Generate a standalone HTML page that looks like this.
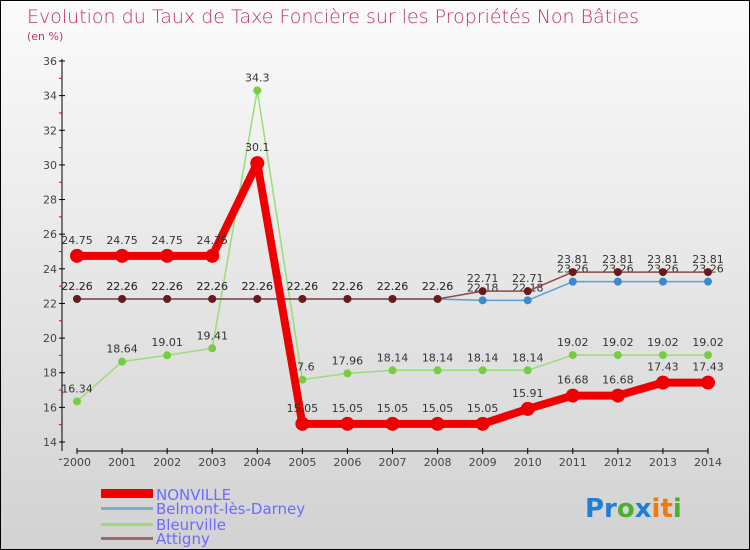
<!DOCTYPE html>
<html><head><meta charset="utf-8"><style>
body{margin:0;}
#wrap{width:750px;height:550px;box-sizing:border-box;border:1px solid #000;background:linear-gradient(#fbfbfb,#d2d2d2);position:relative;overflow:hidden;font-family:"DejaVu Sans","Liberation Sans",sans-serif;}
svg text{font-family:"DejaVu Sans","Liberation Sans",sans-serif;}
</style></head><body>
<div id="wrap">
<svg id="svg" width="750" height="550" style="position:absolute;left:0;top:0">
<text x="26" y="22" font-size="19" fill="#c0306a" style="font-weight:200">Evolution du Taux de Taxe Foncière sur les Propriétés Non Bâties</text>
<text x="26" y="39" font-size="11" fill="#c0306a">(en %)</text>
<g id="axes"></g><g id="series"></g>
<g>
<rect x="100" y="488" width="52" height="9" fill="#e00"/>
<text x="155" y="499" font-size="15" fill="#6b6bff">NONVILLE</text>
<rect x="100" y="506" width="52" height="3" fill="#7aaed0"/>
<text x="155" y="513" font-size="15" fill="#6b6bff">Belmont-lès-Darney</text>
<rect x="100" y="522" width="52" height="3" fill="#98dd77"/>
<text x="155" y="529" font-size="15" fill="#6b6bff">Bleurville</text>
<rect x="100" y="536" width="52" height="3" fill="#9a6a6a"/>
<text x="155" y="543" font-size="15" fill="#6b6bff">Attigny</text>
</g>
<g font-size="26" font-weight="bold">
<text x="584" y="516"><tspan fill="#1f7fd6">Pr</tspan><tspan fill="#4caf30">o</tspan><tspan fill="#1f7fd6">x</tspan><tspan fill="#f07a10">it</tspan><tspan fill="#4caf30">i</tspan></text>
</g>
</svg>
</div>
<script>
const years=[2000,2001,2002,2003,2004,2005,2006,2007,2008,2009,2010,2011,2012,2013,2014];
const yTicks=[14,16,18,20,22,24,26,28,30,32,34,36];
const nonville=[24.75,24.75,24.75,24.75,30.1,15.05,15.05,15.05,15.05,15.05,15.91,16.68,16.68,17.43,17.43];
const belmont=[22.26,22.26,22.26,22.26,22.26,22.26,22.26,22.26,22.26,22.18,22.18,23.26,23.26,23.26,23.26];
const bleurville=[16.34,18.64,19.01,19.41,34.3,17.6,17.96,18.14,18.14,18.14,18.14,19.02,19.02,19.02,19.02];
const attigny=[22.26,22.26,22.26,22.26,22.26,22.26,22.26,22.26,22.26,22.71,22.71,23.81,23.81,23.81,23.81];
const NS="http://www.w3.org/2000/svg";
function xS(i){return 76+i*(707-76)/(years.length-1);}
function yS(v){return 441-(v-14)*(441-60)/22;}
function mk(tag,at,parent){const e=document.createElementNS(NS,tag);for(const k in at)e.setAttribute(k,at[k]);parent.appendChild(e);return e;}
const ax=document.getElementById('axes');
let l=mk('line',{x1:61,y1:58,x2:61,y2:450,stroke:'#000','stroke-width':1},ax);


l=mk('line',{x1:76,y1:450,x2:707,y2:450,stroke:'#000','stroke-width':1},ax);


yTicks.forEach(v=>{
  const y=yS(v);
  mk('line',{x1:58,y1:y,x2:64,y2:y,stroke:'#000'},ax);
  mk('line',{x1:58,y1:y+(441-60)/22,x2:61,y2:y+(441-60)/22,stroke:'#e00'},ax);
  const t=mk('text',{x:56,y:y+4,'font-size':11,fill:'#444','text-anchor':'end'},ax);
  t.textContent=v;
  
  
});
years.forEach((yr,i)=>{
  const x=xS(i);
  mk('line',{x1:x,y1:447,x2:x,y2:453,stroke:'#000'},ax);
  const t=mk('text',{x:x,y:465,'font-size':11,fill:'#444','text-anchor':'middle'},ax);
  t.textContent=yr;
  
  
});
const sg=document.getElementById('series');
function draw(vals,name,color,dot,w,r){
  const g=mk('g',{},sg);
  
  
  const p=mk('polyline',{points:vals.map((v,i)=>xS(i)+','+yS(v)).join(' '),fill:'none',stroke:color,'stroke-width':w,'stroke-linejoin':'round'},g);
  
  
  vals.forEach((v,i)=>{
    const c=mk('circle',{cx:xS(i),cy:yS(v),r:r,fill:dot},g);
    
    
    const t=mk('text',{x:xS(i),y:yS(v)-r-5,'font-size':11,fill:'#333','text-anchor':'middle'},g);
    t.textContent=v;
    
    
  });
}
draw(belmont,'belmont','#5a9ed0','#3a8ad0',1.5,4);
draw(bleurville,'bleurville','#98dd77','#77cc44',1.5,4);
draw(attigny,'attigny','#8a4a4a','#6a1a1a',1.5,4);
draw(nonville,'nonville','#ee0000','#ee0000',8,7);
</script>
</body></html>
